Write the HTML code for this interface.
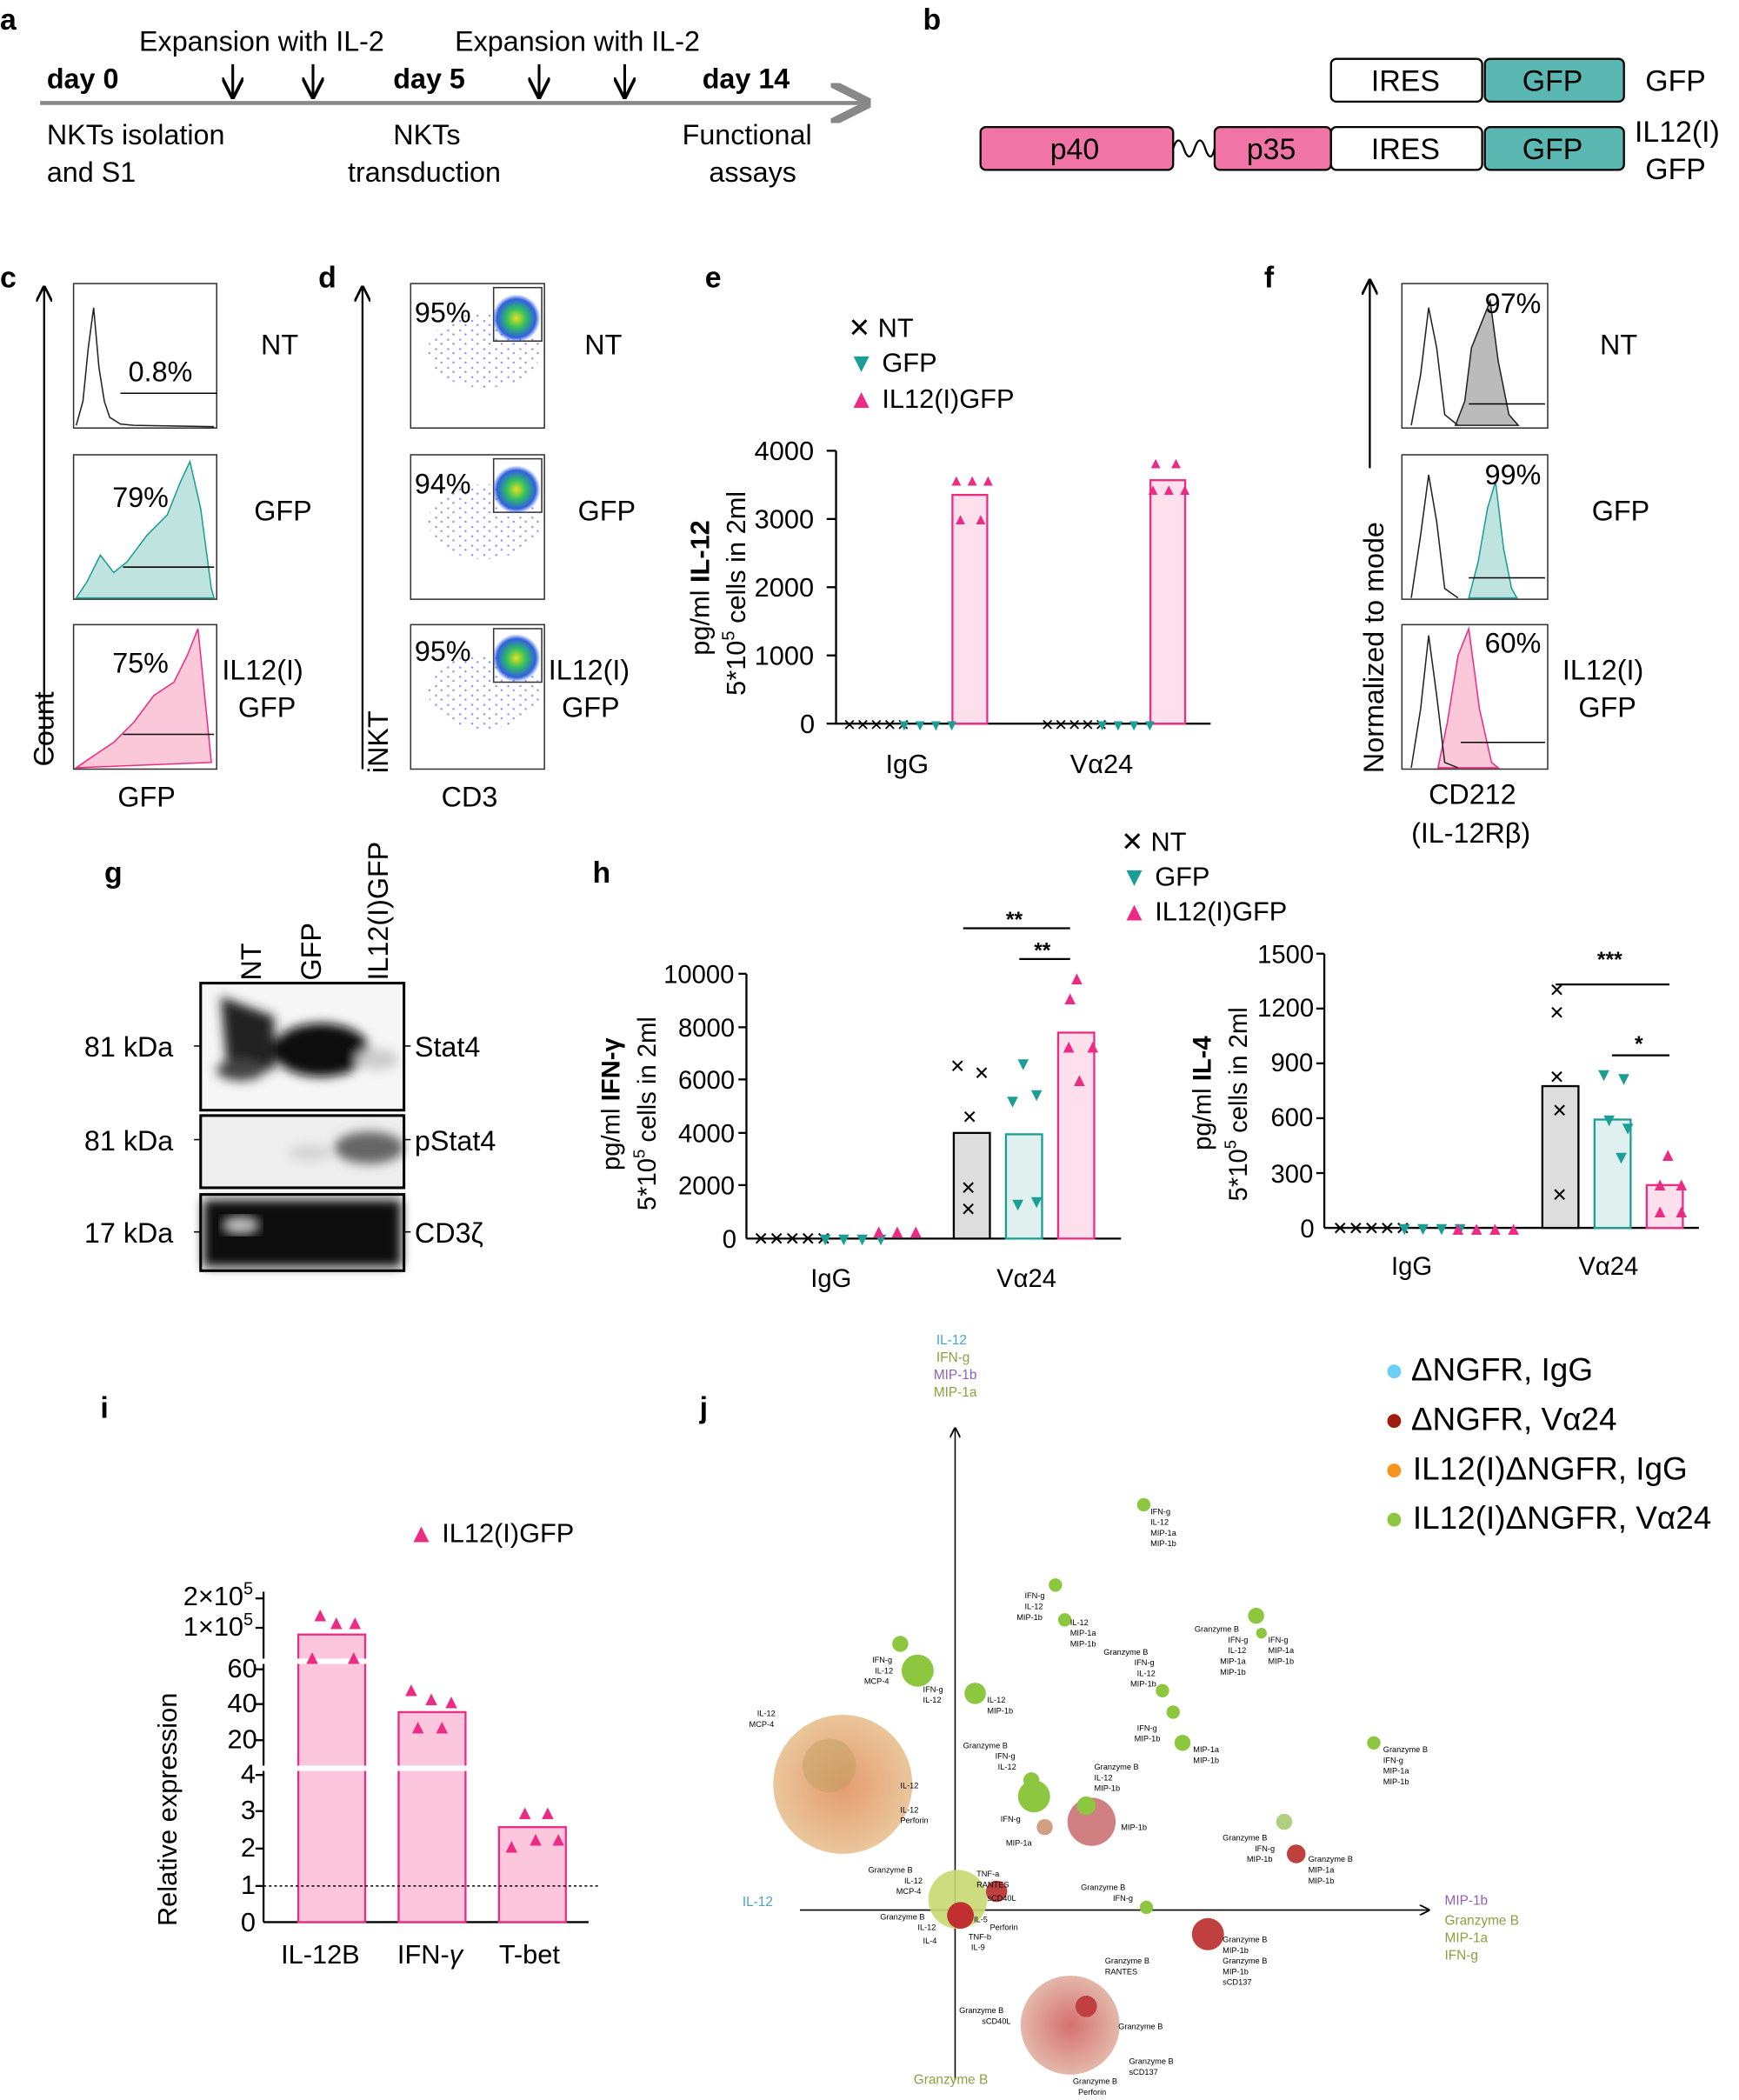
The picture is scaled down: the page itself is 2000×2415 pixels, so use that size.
<!DOCTYPE html>
<html><head><meta charset="utf-8"><style>html,body{margin:0;padding:0;background:#fff}svg{display:block}text{font-family:"Liberation Sans",sans-serif}</style></head><body>
<svg width="2000" height="2415" viewBox="0 0 1300 1570" preserveAspectRatio="none" xmlns="http://www.w3.org/2000/svg">
<defs>
<marker id="ah" markerWidth="8" markerHeight="8" refX="7" refY="4" orient="auto"><path d="M0,0 L8,4 L0,8" fill="none" stroke="#000" stroke-width="1.2"/></marker>
<marker id="ahg" markerWidth="10" markerHeight="10" refX="9" refY="5" orient="auto"><path d="M0,0 L10,5 L0,10" fill="none" stroke="#888" stroke-width="2"/></marker>
<radialGradient id="dg"><stop offset="0" stop-color="#e8e020"/><stop offset=".4" stop-color="#30c060"/><stop offset=".8" stop-color="#3060e0"/><stop offset="1" stop-color="#3060e0" stop-opacity="0"/></radialGradient>
<radialGradient id="big"><stop offset="0" stop-color="#e09060"/><stop offset="1" stop-color="#e8c090"/></radialGradient>
<radialGradient id="big2"><stop offset="0" stop-color="#d06060"/><stop offset="1" stop-color="#e0b0a0"/></radialGradient>
<filter id="bl"><feGaussianBlur stdDeviation="4"/></filter>
<pattern id="dots" width="9" height="7" patternUnits="userSpaceOnUse"><circle cx="2" cy="2" r=".8" fill="#5a6ae0"/><circle cx="6" cy="5" r=".8" fill="#5a6ae0"/></pattern>
</defs>
<g font-size="22" font-weight="bold"><text x="0" y="22">a</text><text x="690" y="22">b</text><text x="0" y="215">c</text><text x="238" y="215">d</text><text x="527" y="215">e</text><text x="945" y="215">f</text><text x="78" y="660">g</text><text x="443" y="660">h</text><text x="75" y="1060">i</text><text x="523" y="1060">j</text></g>
<!-- a -->
<line x1="30" y1="77" x2="648" y2="77" stroke="#888" stroke-width="3" marker-end="url(#ahg)"/>
<g font-size="21"><text x="104" y="38">Expansion with IL-2</text><text x="340" y="38">Expansion with IL-2</text>
<text x="35" y="66" font-weight="bold">day 0</text><text x="294" y="66" font-weight="bold">day 5</text><text x="525" y="66" font-weight="bold">day 14</text>
<text x="35" y="108">NKTs isolation</text><text x="35" y="136">and S1</text><text x="294" y="108">NKTs</text><text x="260" y="136">transduction</text><text x="510" y="108">Functional</text><text x="530" y="136">assays</text></g>
<g stroke="#000" stroke-width="2"><line x1="174" y1="48" x2="174" y2="72" marker-end="url(#ah)"/><line x1="234" y1="48" x2="234" y2="72" marker-end="url(#ah)"/><line x1="403" y1="48" x2="403" y2="72" marker-end="url(#ah)"/><line x1="467" y1="48" x2="467" y2="72" marker-end="url(#ah)"/></g>
<!-- b -->
<g stroke="#000" stroke-width="1.5" font-size="22">
<rect x="995" y="44" width="113" height="32" rx="4" fill="#fff"/><rect x="1110" y="44" width="104" height="32" rx="4" fill="#5bb7b1"/>
<rect x="733" y="95" width="144" height="32" rx="4" fill="#f075a6"/><rect x="908" y="95" width="87" height="32" rx="4" fill="#f075a6"/>
<rect x="995" y="95" width="113" height="32" rx="4" fill="#fff"/><rect x="1110" y="95" width="104" height="32" rx="4" fill="#5bb7b1"/>
<path d="M877,111 q4,-12 8,0 t8,0 t8,0 t7,0" fill="none"/></g>
<g font-size="22"><text x="1025" y="68">IRES</text><text x="1138" y="68">GFP</text><text x="1230" y="68">GFP</text>
<text x="785" y="119">p40</text><text x="932" y="119">p35</text><text x="1025" y="119">IRES</text><text x="1138" y="119">GFP</text><text x="1222" y="106">IL12(I)</text><text x="1230" y="134">GFP</text></g>
<!-- c -->
<line x1="33" y1="570" x2="33" y2="215" stroke="#000" stroke-width="1.5" marker-end="url(#ah)"/>
<g fill="none" stroke="#333" stroke-width="1"><rect x="55" y="212" width="107" height="108"/><rect x="55" y="340" width="107" height="108"/><rect x="55" y="467" width="107" height="108"/></g>
<path d="M57,318 L62,300 66,260 70,230 74,275 78,300 82,312 90,317 100,318 160,319" fill="none" stroke="#222"/>
<path d="M57,447 L65,435 75,415 85,428 95,420 110,400 125,385 135,360 142,345 150,380 158,440 160,447Z" fill="#bfe3df" stroke="#1a9e96"/>
<path d="M57,574 L70,565 85,555 100,540 115,520 130,510 140,490 148,470 153,520 158,570Z" fill="#fbc8da" stroke="#ec2c84"/>
<g stroke="#000"><line x1="90" y1="294" x2="162" y2="294"/><line x1="92" y1="424" x2="160" y2="424"/><line x1="92" y1="549" x2="160" y2="549"/></g>
<g font-size="21"><text x="96" y="285">0.8%</text><text x="84" y="379">79%</text><text x="84" y="503">75%</text><text x="195" y="265">NT</text><text x="190" y="389">GFP</text><text x="166" y="508">IL12(I)</text><text x="178" y="536">GFP</text><text x="88" y="603">GFP</text>
<text transform="translate(40,573) rotate(-90)">Count</text></g>
<!-- d -->
<line x1="271" y1="575" x2="271" y2="215" stroke="#000" stroke-width="1.5" marker-end="url(#ah)"/>
<g fill="none" stroke="#333"><rect x="307" y="212" width="100" height="108"/><rect x="307" y="340" width="100" height="108"/><rect x="307" y="467" width="100" height="108"/>
<rect x="369" y="215" width="36" height="40"/><rect x="369" y="343" width="36" height="40"/><rect x="369" y="470" width="36" height="40"/></g>
<g fill="url(#dots)" opacity=".7"><ellipse cx="362" cy="262" rx="42" ry="28"/><ellipse cx="362" cy="390" rx="42" ry="28"/><ellipse cx="362" cy="517" rx="42" ry="28"/></g>
<ellipse cx="386" cy="238" rx="18" ry="18" fill="url(#dg)"/><ellipse cx="386" cy="366" rx="18" ry="18" fill="url(#dg)"/><ellipse cx="386" cy="492" rx="18" ry="18" fill="url(#dg)"/>
<g font-size="21"><text x="310" y="241">95%</text><text x="310" y="369">94%</text><text x="310" y="494">95%</text><text x="437" y="265">NT</text><text x="432" y="389">GFP</text><text x="410" y="508">IL12(I)</text><text x="420" y="536">GFP</text><text x="330" y="603">CD3</text>
<text transform="translate(290,578) rotate(-90)">iNKT</text></g>
<!-- e -->
<g font-size="20"><text x="634" y="252">✕ NT</text><text x="634" y="278"><tspan fill="#1a9e96">▼</tspan> GFP</text><text x="634" y="305"><tspan fill="#ec2c84">▲</tspan> IL12(I)GFP</text>
<text x="564" y="344">4000</text><text x="564" y="395">3000</text><text x="564" y="446">2000</text><text x="564" y="497">1000</text><text x="598" y="548">0</text>
<text x="662" y="578">IgG</text><text x="800" y="578">Vα24</text>
<text transform="translate(530,490) rotate(-90)">pg/ml <tspan font-weight="bold">IL-12</tspan></text>
<text transform="translate(557,520) rotate(-90)">5*10<tspan font-size="13" dy="-8">5</tspan><tspan dy="8"> cells in 2ml</tspan></text></g>
<g stroke="#000" stroke-width="1.5"><line x1="625" y1="337" x2="625" y2="541"/><line x1="625" y1="541" x2="905" y2="541"/>
<line x1="618" y1="337" x2="625" y2="337"/><line x1="618" y1="388" x2="625" y2="388"/><line x1="618" y1="439" x2="625" y2="439"/><line x1="618" y1="490" x2="625" y2="490"/><line x1="618" y1="541" x2="625" y2="541"/></g>
<rect x="712" y="370" width="26" height="171" fill="#fde0ec" stroke="#ec2c84" stroke-width="1.5"/><rect x="860" y="359" width="26" height="182" fill="#fde0ec" stroke="#ec2c84" stroke-width="1.5"/>
<g font-size="12" fill="#ec2c84"><text x="709" y="363">▲▲▲</text><text x="712" y="392">▲ ▲</text><text x="858" y="350">▲ ▲</text><text x="856" y="370">▲▲▲</text></g>
<g font-size="12"><text x="630" y="546">✕✕✕✕✕</text><text x="670" y="546" fill="#1a9e96">▼▼▼▼</text><text x="778" y="546">✕✕✕✕✕</text><text x="818" y="546" fill="#1a9e96">▼▼▼▼</text></g>
<!-- f -->
<line x1="1024" y1="350" x2="1024" y2="210" stroke="#000" stroke-width="1.5" marker-end="url(#ah)"/>
<g fill="none" stroke="#333"><rect x="1048" y="212" width="109" height="108"/><rect x="1048" y="340" width="109" height="108"/><rect x="1048" y="467" width="109" height="108"/></g>
<path d="M1088,318 L1095,300 1100,260 1108,240 1114,225 1120,270 1128,310 1135,318Z" fill="#bbb" stroke="#222"/>
<path d="M1098,447 L1105,420 1112,380 1118,360 1124,410 1130,440 1134,447Z" fill="#bfe3df" stroke="#1a9e96"/>
<path d="M1075,574 L1082,540 1090,490 1098,470 1106,530 1115,570 1120,574Z" fill="#fbc8da" stroke="#ec2c84"/>
<g fill="none" stroke="#222"><path d="M1055,318 L1062,280 1068,230 1074,260 1080,310 1090,318"/><path d="M1055,447 L1062,400 1068,355 1074,390 1080,440 1090,447"/><path d="M1055,574 L1062,530 1068,475 1074,520 1080,570 1090,574"/></g>
<g stroke="#000"><line x1="1098" y1="302" x2="1155" y2="302"/><line x1="1098" y1="432" x2="1155" y2="432"/><line x1="1092" y1="555" x2="1155" y2="555"/></g>
<g font-size="21"><text x="1110" y="234">97%</text><text x="1110" y="362">99%</text><text x="1110" y="488">60%</text><text x="1196" y="265">NT</text><text x="1190" y="389">GFP</text><text x="1168" y="508">IL12(I)</text><text x="1180" y="536">GFP</text><text x="1068" y="601">CD212</text><text x="1055" y="630">(IL-12Rβ)</text>
<text transform="translate(1034,578) rotate(-90)">Normalized to mode</text></g>
<!-- g -->
<g font-size="21"><text transform="translate(195,733) rotate(-90)">NT</text><text transform="translate(240,733) rotate(-90)">GFP</text><text transform="translate(290,733) rotate(-90)">IL12(I)GFP</text>
<text x="63" y="790">81 kDa</text><text x="63" y="860">81 kDa</text><text x="63" y="929">17 kDa</text><text x="310" y="790">Stat4</text><text x="310" y="860">pStat4</text><text x="310" y="929">CD3ζ</text></g>
<rect x="150" y="735" width="152" height="95" fill="#f6f6f6"/><rect x="150" y="834" width="152" height="54" fill="#eeeeee"/><rect x="150" y="893" width="152" height="57" fill="#f0f0f0"/>
<g filter="url(#bl)"><path d="M165,745 L205,760 205,800 170,800Z" fill="#222"/><ellipse cx="180" cy="800" rx="18" ry="8" fill="#444"/><ellipse cx="240" cy="785" rx="36" ry="20" fill="#0a0a0a"/><ellipse cx="282" cy="792" rx="16" ry="8" fill="#ccc"/>
<ellipse cx="276" cy="858" rx="26" ry="12" fill="#666"/><ellipse cx="232" cy="862" rx="16" ry="6" fill="#d4d4d4"/>
<rect x="152" y="897" width="148" height="50" fill="#111"/></g>
<ellipse cx="180" cy="916" rx="14" ry="7" fill="#bbb" filter="url(#bl)"/>
<g fill="none" stroke="#000" stroke-width="2"><rect x="150" y="735" width="152" height="95"/><rect x="150" y="834" width="152" height="54"/><rect x="150" y="893" width="152" height="57"/></g>
<g stroke="#000"><line x1="145" y1="782" x2="150" y2="782"/><line x1="145" y1="852" x2="150" y2="852"/><line x1="145" y1="921" x2="150" y2="921"/><line x1="302" y1="782" x2="307" y2="782"/><line x1="302" y1="852" x2="307" y2="852"/><line x1="302" y1="921" x2="307" y2="921"/></g>
<!-- h legend -->
<g font-size="20"><text x="838" y="636">✕ NT</text><text x="838" y="662"><tspan fill="#1a9e96">▼</tspan> GFP</text><text x="838" y="688"><tspan fill="#ec2c84">▲</tspan> IL12(I)GFP</text></g>
<!-- h IFN -->
<g font-size="19"><text x="496" y="735">10000</text><text x="507" y="775">8000</text><text x="507" y="814">6000</text><text x="507" y="854">4000</text><text x="507" y="893">2000</text><text x="540" y="933">0</text>
<text x="606" y="962">IgG</text><text x="745" y="962">Vα24</text>
<text transform="translate(463,875) rotate(-90)">pg/ml <tspan font-weight="bold">IFN-γ</tspan></text>
<text transform="translate(490,905) rotate(-90)">5*10<tspan font-size="12" dy="-8">5</tspan><tspan dy="8"> cells in 2ml</tspan></text></g>
<g stroke="#000" stroke-width="1.5"><line x1="558" y1="728" x2="558" y2="926"/><line x1="558" y1="926" x2="838" y2="926"/>
<line x1="552" y1="728" x2="558" y2="728"/><line x1="552" y1="768" x2="558" y2="768"/><line x1="552" y1="807" x2="558" y2="807"/><line x1="552" y1="847" x2="558" y2="847"/><line x1="552" y1="886" x2="558" y2="886"/>
<line x1="720" y1="694" x2="800" y2="694"/><line x1="762" y1="717" x2="800" y2="717"/></g>
<rect x="713" y="847" width="27" height="79" fill="#ddd" stroke="#000" stroke-width="1.5"/><rect x="752" y="848" width="27" height="78" fill="#dff0ee" stroke="#1a9e96" stroke-width="1.5"/><rect x="791" y="772" width="27" height="154" fill="#fde0ec" stroke="#ec2c84" stroke-width="1.5"/>
<g font-size="16" font-weight="bold"><text x="752" y="693">**</text><text x="773" y="716">**</text></g>
<g font-size="14"><text x="710" y="802">✕</text><text x="728" y="807">✕</text><text x="719" y="840">✕</text><text x="718" y="893">✕</text><text x="718" y="909">✕</text>
<g fill="#1a9e96"><text x="758" y="800">▼</text><text x="750" y="828">▼</text><text x="768" y="823">▼</text><text x="768" y="903">▼</text><text x="754" y="905">▼</text></g>
<g fill="#ec2c84"><text x="798" y="736">▲</text><text x="793" y="751">▲</text><text x="792" y="787">▲</text><text x="810" y="787">▲</text><text x="800" y="812">▲</text></g>
<text x="563" y="931">✕✕✕✕✕</text><text x="610" y="931" fill="#1a9e96">▼▼▼▼</text><text x="650" y="925" fill="#ec2c84">▲▲▲</text></g>
<!-- h IL-4 -->
<g font-size="19"><text x="940" y="720">1500</text><text x="940" y="760">1200</text><text x="950" y="801">900</text><text x="950" y="842">600</text><text x="950" y="884">300</text><text x="972" y="925">0</text>
<text x="1040" y="953">IgG</text><text x="1180" y="953">Vα24</text>
<text transform="translate(905,860) rotate(-90)">pg/ml <tspan font-weight="bold">IL-4</tspan></text>
<text transform="translate(932,898) rotate(-90)">5*10<tspan font-size="12" dy="-8">5</tspan><tspan dy="8"> cells in 2ml</tspan></text></g>
<g stroke="#000" stroke-width="1.5"><line x1="990" y1="713" x2="990" y2="918"/><line x1="990" y1="918" x2="1270" y2="918"/>
<line x1="984" y1="713" x2="990" y2="713"/><line x1="984" y1="754" x2="990" y2="754"/><line x1="984" y1="795" x2="990" y2="795"/><line x1="984" y1="836" x2="990" y2="836"/><line x1="984" y1="877" x2="990" y2="877"/>
<line x1="1163" y1="736" x2="1248" y2="736"/><line x1="1205" y1="789" x2="1248" y2="789"/></g>
<rect x="1153" y="812" width="27" height="106" fill="#ddd" stroke="#000" stroke-width="1.5"/><rect x="1192" y="837" width="27" height="81" fill="#dff0ee" stroke="#1a9e96" stroke-width="1.5"/><rect x="1231" y="886" width="27" height="32" fill="#fde0ec" stroke="#ec2c84" stroke-width="1.5"/>
<g font-size="16" font-weight="bold"><text x="1194" y="723">***</text><text x="1222" y="786">*</text></g>
<g font-size="14"><text x="1158" y="745">✕</text><text x="1158" y="762">✕</text><text x="1158" y="810">✕</text><text x="1160" y="835">✕</text><text x="1160" y="898">✕</text>
<g fill="#1a9e96"><text x="1192" y="808">▼</text><text x="1207" y="811">▼</text><text x="1196" y="842">▼</text><text x="1210" y="848">▼</text><text x="1205" y="870">▼</text></g>
<g fill="#ec2c84"><text x="1240" y="868">▲</text><text x="1234" y="890">▲</text><text x="1250" y="890">▲</text><text x="1234" y="910">▲</text><text x="1250" y="910">▲</text></g>
<text x="996" y="923">✕✕✕✕✕</text><text x="1043" y="923" fill="#1a9e96">▼▼▼▼</text><text x="1083" y="923" fill="#ec2c84">▲▲▲▲</text></g>
<!-- i -->
<g font-size="20"><text x="305" y="1153"><tspan fill="#ec2c84">▲</tspan> IL12(I)GFP</text>
<text x="137" y="1200">2×10<tspan font-size="13" dy="-8">5</tspan></text><text x="137" y="1223" dy="0">1×10<tspan font-size="13" dy="-8">5</tspan></text>
<text x="170" y="1254">60</text><text x="170" y="1280">40</text><text x="170" y="1307">20</text><text x="180" y="1333">4</text><text x="180" y="1360">3</text><text x="180" y="1388">2</text><text x="180" y="1416">1</text><text x="180" y="1444">0</text>
<text x="210" y="1468">IL-12B</text><text x="297" y="1468">IFN-<tspan font-style="italic">γ</tspan></text><text x="373" y="1468">T-bet</text>
<text transform="translate(132,1440) rotate(-90)">Relative expression</text></g>
<g stroke="#000" stroke-width="1.5"><line x1="197" y1="1190" x2="197" y2="1437"/><line x1="197" y1="1437" x2="440" y2="1437"/>
<line x1="191" y1="1195" x2="197" y2="1195"/><line x1="191" y1="1217" x2="197" y2="1217"/><line x1="191" y1="1248" x2="197" y2="1248"/><line x1="191" y1="1274" x2="197" y2="1274"/><line x1="191" y1="1301" x2="197" y2="1301"/><line x1="191" y1="1327" x2="197" y2="1327"/><line x1="191" y1="1354" x2="197" y2="1354"/><line x1="191" y1="1382" x2="197" y2="1382"/><line x1="191" y1="1410" x2="197" y2="1410"/></g>
<rect x="223" y="1222" width="50" height="215" fill="#fcc7dc" stroke="#ec2c84" stroke-width="1.5"/><rect x="298" y="1280" width="50" height="157" fill="#fcc7dc" stroke="#ec2c84" stroke-width="1.5"/><rect x="373" y="1366" width="50" height="71" fill="#fcc7dc" stroke="#ec2c84" stroke-width="1.5"/>
<rect x="190" y="1240" width="240" height="4" fill="#fff"/><rect x="190" y="1320" width="240" height="4" fill="#fff"/>
<line x1="197" y1="1410" x2="448" y2="1410" stroke="#000" stroke-dasharray="2,2"/>
<g font-size="15" fill="#ec2c84"><text x="232" y="1212">▲</text><text x="244" y="1218">▲</text><text x="258" y="1218">▲</text><text x="226" y="1244">▲</text><text x="257" y="1244">▲</text>
<text x="300" y="1268">▲</text><text x="315" y="1275">▲</text><text x="330" y="1277">▲</text><text x="305" y="1296">▲</text><text x="323" y="1296">▲</text>
<text x="385" y="1360">▲</text><text x="402" y="1360">▲</text><text x="375" y="1385">▲</text><text x="393" y="1380">▲</text><text x="410" y="1380">▲</text></g>
<!-- j -->
<g stroke="#000"><line x1="714" y1="1555" x2="714" y2="1068" marker-end="url(#ah)"/><line x1="598" y1="1428" x2="1068" y2="1428" marker-end="url(#ah)"/></g>
<g font-size="10"><text x="700" y="1005" fill="#4aa3c8">IL-12</text><text x="700" y="1018" fill="#8aa040">IFN-g</text><text x="698" y="1031" fill="#8f5fb5">MIP-1b</text><text x="698" y="1044" fill="#8aa040">MIP-1a</text>
<text x="555" y="1425" fill="#4aa3c8">IL-12</text><text x="1080" y="1424" fill="#8f5fb5">MIP-1b</text><text x="1080" y="1439" fill="#8aa040">Granzyme B</text><text x="1080" y="1452" fill="#8aa040">MIP-1a</text><text x="1080" y="1465" fill="#8aa040">IFN-g</text>
<text x="683" y="1558" fill="#8aa040">Granzyme B</text></g>
<g font-size="24"><text x="1035" y="1032"><tspan fill="#6ccff6">●</tspan> ΔNGFR, IgG</text><text x="1035" y="1069"><tspan fill="#a01c10">●</tspan> ΔNGFR, Vα24</text><text x="1035" y="1106"><tspan fill="#f7941d">●</tspan> IL12(I)ΔNGFR, IgG</text><text x="1035" y="1143"><tspan fill="#8dc63f">●</tspan> IL12(I)ΔNGFR, Vα24</text></g>
<circle cx="630" cy="1334" r="52" fill="url(#big)" opacity=".9"/><circle cx="620" cy="1320" r="20" fill="#c0a060" opacity=".5"/>
<circle cx="800" cy="1514" r="37" fill="url(#big2)" opacity=".9"/><circle cx="812" cy="1500" r="8" fill="#c04040"/>
<circle cx="716" cy="1420" r="22" fill="#c8d870" opacity=".9"/><circle cx="718" cy="1432" r="10" fill="#c03030"/><circle cx="745" cy="1414" r="8" fill="#c04040"/>
<circle cx="816" cy="1362" r="18" fill="#d08080"/><circle cx="812" cy="1350" r="7" fill="#8dc63f"/>
<circle cx="773" cy="1343" r="12" fill="#8dc63f"/><circle cx="771" cy="1331" r="6" fill="#8dc63f"/><circle cx="781" cy="1366" r="6" fill="#d0a080"/>
<circle cx="903" cy="1446" r="12" fill="#c04040"/><circle cx="969" cy="1386" r="7" fill="#c04040"/><circle cx="960" cy="1362" r="6" fill="#b0d080"/>
<g fill="#8dc63f"><circle cx="686" cy="1249" r="12"/><circle cx="729" cy="1266" r="8"/><circle cx="673" cy="1229" r="6"/><circle cx="855" cy="1125" r="5"/><circle cx="789" cy="1185" r="5"/><circle cx="796" cy="1211" r="5"/><circle cx="869" cy="1264" r="5"/><circle cx="877" cy="1280" r="5"/><circle cx="884" cy="1303" r="6"/><circle cx="939" cy="1208" r="6"/><circle cx="943" cy="1221" r="4"/><circle cx="1027" cy="1303" r="5"/><circle cx="857" cy="1426" r="5"/></g>
<g font-size="6"><text x="860" y="1132">IFN-g</text><text x="860" y="1140">IL-12</text><text x="860" y="1148">MIP-1a</text><text x="860" y="1156">MIP-1b</text>
<text x="766" y="1195">IFN-g</text><text x="766" y="1203">IL-12</text><text x="760" y="1211">MIP-1b</text><text x="800" y="1215">IL-12</text><text x="800" y="1223">MIP-1a</text><text x="800" y="1231">MIP-1b</text>
<text x="825" y="1237">Granzyme B</text><text x="848" y="1245">IFN-g</text><text x="850" y="1253">IL-12</text><text x="845" y="1261">MIP-1b</text>
<text x="652" y="1243">IFN-g</text><text x="654" y="1251">IL-12</text><text x="646" y="1259">MCP-4</text><text x="690" y="1265">IFN-g</text><text x="690" y="1273">IL-12</text><text x="738" y="1273">IL-12</text><text x="738" y="1281">MIP-1b</text>
<text x="566" y="1283">IL-12</text><text x="560" y="1291">MCP-4</text><text x="673" y="1337">IL-12</text><text x="673" y="1355">IL-12</text><text x="673" y="1363">Perforin</text>
<text x="720" y="1307">Granzyme B</text><text x="744" y="1315">IFN-g</text><text x="746" y="1323">IL-12</text><text x="748" y="1362">IFN-g</text><text x="752" y="1380">MIP-1a</text>
<text x="818" y="1323">Granzyme B</text><text x="818" y="1331">IL-12</text><text x="818" y="1339">MIP-1b</text><text x="838" y="1368">MIP-1b</text>
<text x="850" y="1294">IFN-g</text><text x="848" y="1302">MIP-1b</text><text x="892" y="1310">MIP-1a</text><text x="892" y="1318">MIP-1b</text>
<text x="893" y="1220">Granzyme B</text><text x="918" y="1228">IFN-g</text><text x="918" y="1236">IL-12</text><text x="912" y="1244">MIP-1a</text><text x="912" y="1252">MIP-1b</text><text x="948" y="1228">IFN-g</text><text x="948" y="1236">MIP-1a</text><text x="948" y="1244">MIP-1b</text>
<text x="1034" y="1310">Granzyme B</text><text x="1034" y="1318">IFN-g</text><text x="1034" y="1326">MIP-1a</text><text x="1034" y="1334">MIP-1b</text>
<text x="914" y="1376">Granzyme B</text><text x="938" y="1384">IFN-g</text><text x="932" y="1392">MIP-1b</text><text x="978" y="1392">Granzyme B</text><text x="978" y="1400">MIP-1a</text><text x="978" y="1408">MIP-1b</text>
<text x="649" y="1400">Granzyme B</text><text x="676" y="1408">IL-12</text><text x="670" y="1416">MCP-4</text><text x="730" y="1403">TNF-a</text><text x="730" y="1411">RANTES</text><text x="738" y="1421">sCD40L</text>
<text x="658" y="1435">Granzyme B</text><text x="686" y="1443">IL-12</text><text x="690" y="1453">IL-4</text><text x="728" y="1437">IL-5</text><text x="740" y="1443">Perforin</text><text x="724" y="1450">TNF-b</text><text x="726" y="1458">IL-9</text>
<text x="808" y="1413">Granzyme B</text><text x="832" y="1421">IFN-g</text><text x="826" y="1468">Granzyme B</text><text x="826" y="1476">RANTES</text>
<text x="914" y="1452">Granzyme B</text><text x="914" y="1460">MIP-1b</text><text x="914" y="1468">Granzyme B</text><text x="914" y="1476">MIP-1b</text><text x="914" y="1484">sCD137</text>
<text x="717" y="1505">Granzyme B</text><text x="734" y="1513">sCD40L</text><text x="836" y="1517">Granzyme B</text><text x="844" y="1543">Granzyme B</text><text x="844" y="1551">sCD137</text><text x="802" y="1558">Granzyme B</text><text x="806" y="1566">Perforin</text></g>
</svg>
</body></html>
